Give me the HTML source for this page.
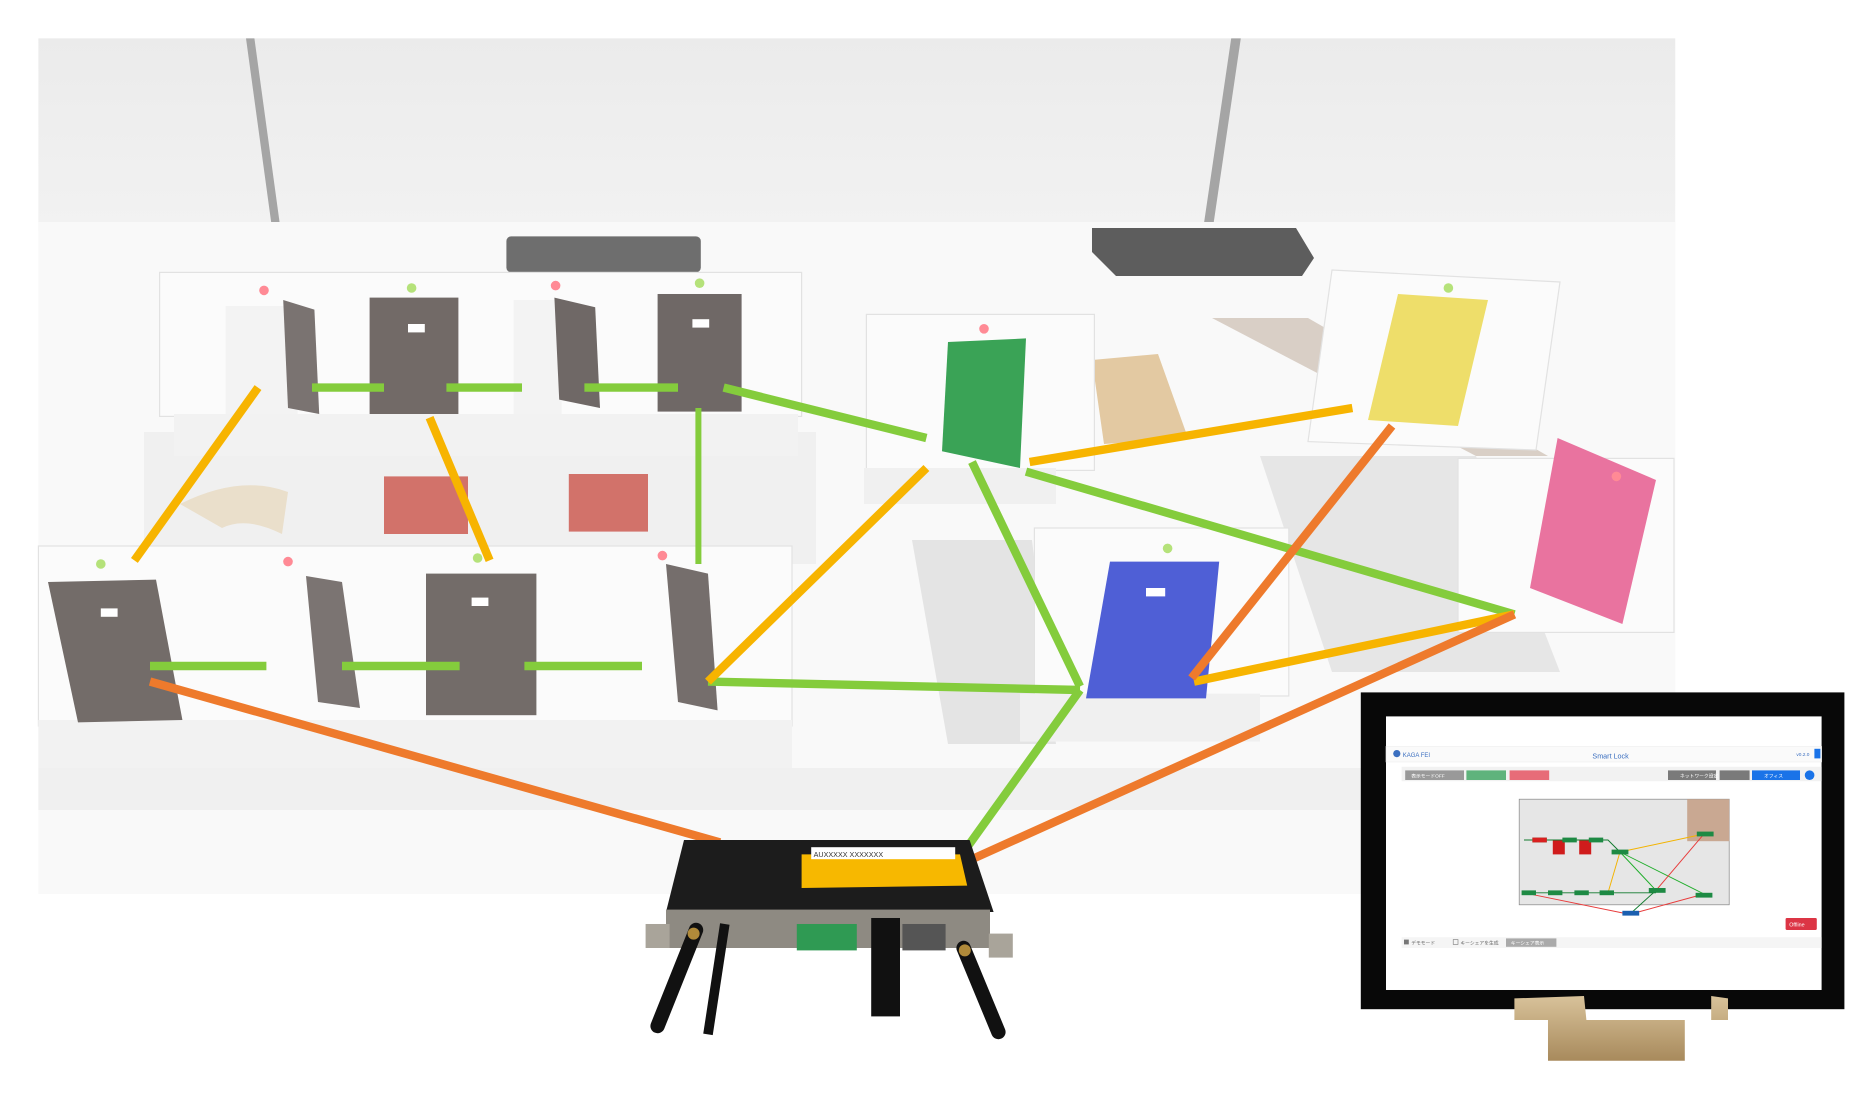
<!DOCTYPE html>
<html><head><meta charset="utf-8"><style>
html,body{margin:0;padding:0;background:#fff;width:1872px;height:1100px;overflow:hidden}
svg{display:block}
</style></head><body>
<svg width="1872" height="1100" viewBox="0 0 1560 916.67" xmlns="http://www.w3.org/2000/svg" font-family="Liberation Sans, Noto Sans CJK JP, sans-serif">
<defs>
<linearGradient id="wall" x1="0" y1="0" x2="0" y2="1"><stop offset="0" stop-color="#ebebeb"/><stop offset="1" stop-color="#f2f2f2"/></linearGradient>
<linearGradient id="stand" x1="0" y1="0" x2="0" y2="1"><stop offset="0" stop-color="#d8c29a"/><stop offset="1" stop-color="#a88a5c"/></linearGradient>
</defs>
<rect x="32" y="32" width="1364" height="713" fill="#f7f7f7"/>
<rect x="32" y="32" width="1364" height="160" fill="url(#wall)"/>
<polygon points="205,32 212,32 235,200 228,200" fill="#a5a5a5"/>
<polygon points="1026,32 1034,32 1010,195 1002,195" fill="#a5a5a5"/>
<rect x="32" y="185" width="1364" height="560" fill="#f9f9f9"/>
<rect x="422" y="197" width="162" height="30" rx="4" fill="#6e6e6e"/>
<polygon points="910,190 1080,190 1095,215 1085,230 930,230 910,210" fill="#5d5d5d"/>
<rect x="120" y="360" width="560" height="110" fill="#f0f0f0"/>
<polygon points="1010,265 1090,265 1290,380 1230,380" fill="#d9cfc6"/>
<polygon points="1050,380 1230,380 1300,560 1110,560" fill="#e6e6e6"/>
<polygon points="760,450 860,450 880,620 790,620" fill="#e4e4e4"/>
<polygon points="910,300 965,295 990,365 920,370" fill="#e3c9a2"/>
<rect x="320" y="397" width="70" height="48" fill="#d2726a"/>
<rect x="474" y="395" width="66" height="48" fill="#d2726a"/>
<path d="M150,420 Q200,395 240,410 L235,445 Q205,430 185,440 Z" fill="#eadfcb"/>
<rect x="133" y="227" width="535" height="120" fill="#fbfbfb" stroke="#e2e2e2"/>
<rect x="145" y="345" width="520" height="35" fill="#f2f2f2"/>
<rect x="188" y="255" width="60" height="90" fill="#f3f3f3"/>
<polygon points="236,250 262,258 266,345 240,340" fill="#7a7371"/>
<rect x="308" y="248" width="74" height="97" fill="#726a67"/>
<rect x="428" y="250" width="40" height="95" fill="#f3f3f3"/>
<polygon points="462,248 496,256 500,340 466,333" fill="#6f6866"/>
<rect x="548" y="245" width="70" height="98" fill="#6f6866"/>
<rect x="340" y="270" width="14" height="7" fill="#fff"/>
<rect x="577" y="266" width="14" height="7" fill="#fff"/>
<circle cx="220" cy="242" r="4" fill="#ff8a95"/><circle cx="343" cy="240" r="4" fill="#b5e27a"/>
<circle cx="463" cy="238" r="4" fill="#ff8a95"/><circle cx="583" cy="236" r="4" fill="#b5e27a"/>
<rect x="722" y="262" width="190" height="130" fill="#fbfbfb" stroke="#e2e2e2"/>
<rect x="720" y="390" width="160" height="30" fill="#f0f0f0"/>
<polygon points="790,285 855,282 850,390 785,376" fill="#3aa356"/>
<circle cx="820" cy="274" r="4" fill="#ff8a95"/>
<polygon points="1110,225 1300,235 1280,375 1090,368" fill="#fbfbfb" stroke="#e2e2e2"/>
<polygon points="1165,245 1240,250 1215,355 1140,350" fill="#eede6a"/>
<circle cx="1207" cy="240" r="4" fill="#b5e27a"/>
<rect x="1215" y="382" width="180" height="145" fill="#fbfbfb" stroke="#e2e2e2"/>
<polygon points="1298,365 1380,400 1352,520 1275,490" fill="#e9739f"/>
<circle cx="1347" cy="397" r="4" fill="#ff8a95"/>
<rect x="862" y="440" width="212" height="140" fill="#fbfbfb" stroke="#e2e2e2"/>
<rect x="850" y="578" width="200" height="40" fill="#f0f0f0"/>
<polygon points="925,468 1016,468 1005,582 905,582" fill="#4f5fd6"/>
<rect x="955" y="490" width="16" height="7" fill="#fff"/>
<circle cx="973" cy="457" r="4" fill="#b5e27a"/>
<rect x="32" y="455" width="628" height="150" fill="#fbfbfb" stroke="#e2e2e2"/>
<rect x="32" y="600" width="628" height="40" fill="#f2f2f2"/>
<rect x="32" y="640" width="1364" height="35" fill="#f0f0f0"/>
<polygon points="40,485 130,483 152,600 65,602" fill="#736c69"/>
<rect x="84" y="507" width="14" height="7" fill="#fff"/>
<polygon points="255,480 285,485 300,590 265,585" fill="#7b7472"/>
<rect x="355" y="478" width="92" height="118" fill="#736c69"/>
<rect x="393" y="498" width="14" height="7" fill="#fff"/>
<polygon points="555,470 590,478 598,592 565,585" fill="#756e6c"/>
<circle cx="84" cy="470" r="4" fill="#b5e27a"/><circle cx="240" cy="468" r="4" fill="#ff8a95"/>
<circle cx="398" cy="465" r="4" fill="#b5e27a"/><circle cx="552" cy="463" r="4" fill="#ff8a95"/>

<g stroke-linecap="butt" stroke-width="7">
<g stroke="#84cc3c">
<line x1="260" y1="323" x2="320" y2="323"/><line x1="372" y1="323" x2="435" y2="323"/><line x1="487" y1="323" x2="565" y2="323"/>
<line x1="125" y1="555" x2="222" y2="555"/><line x1="285" y1="555" x2="383" y2="555"/><line x1="437" y1="555" x2="535" y2="555"/>
<line x1="603" y1="323" x2="772" y2="365"/>
<line x1="582" y1="340" x2="582" y2="470" stroke-width="5"/>
<line x1="810" y1="385" x2="900" y2="572"/>
<line x1="855" y1="393" x2="1262" y2="512"/>
<line x1="590" y1="568" x2="900" y2="575"/>
<line x1="900" y1="575" x2="806" y2="706"/>
</g>
<g stroke="#f7b400">
<line x1="215" y1="323" x2="112" y2="467"/>
<line x1="358" y1="348" x2="408" y2="467"/>
<line x1="772" y1="390" x2="590" y2="568"/>
<line x1="858" y1="385" x2="1127" y2="340"/>
<line x1="995" y1="568" x2="1262" y2="512"/>
</g>
<g stroke="#ee7a2c">
<line x1="125" y1="568" x2="600" y2="702"/>
<line x1="1160" y1="355" x2="993" y2="565"/>
<line x1="1262" y1="512" x2="810" y2="716"/>
</g>
</g>

<polygon points="570,700 808,700 828,760 555,760" fill="#1c1c1c"/>
<polygon points="668,712 800,712 806,738 668,740" fill="#f7b800"/>
<rect x="676" y="706" width="120" height="10" fill="#fff"/>
<text x="678" y="714" font-size="6" fill="#333">AUXXXXX XXXXXXX</text>
<rect x="555" y="758" width="270" height="32" fill="#8e8a82"/>
<rect x="538" y="770" width="20" height="20" fill="#a9a49a"/>
<rect x="824" y="778" width="20" height="20" fill="#a9a49a"/>
<rect x="664" y="770" width="50" height="22" fill="#2f9a53"/>
<rect x="752" y="770" width="36" height="22" fill="#555"/>
<rect x="726" y="765" width="24" height="82" fill="#111"/>
<line x1="580" y1="775" x2="548" y2="855" stroke="#111" stroke-width="12" stroke-linecap="round"/>
<line x1="604" y1="770" x2="590" y2="862" stroke="#111" stroke-width="8"/>
<line x1="803" y1="790" x2="832" y2="860" stroke="#111" stroke-width="12" stroke-linecap="round"/>
<circle cx="578" cy="778" r="5" fill="#b08a3a"/><circle cx="804" cy="792" r="5" fill="#b08a3a"/>

<rect x="1134" y="577" width="403" height="264" fill="#080808"/>
<rect x="1155" y="597" width="363" height="228" fill="#fff"/>
<path d="M1262,832 L1320,830 L1322,850 L1426,850 L1426,830 L1440,832 L1440,850 L1404,850 L1404,884 L1290,884 L1290,850 L1262,850 Z" fill="url(#stand)"/>
<rect x="1155" y="622" width="363" height="13" fill="#fafafa" stroke="#eee" stroke-width="0.5"/>
<circle cx="1164" cy="628" r="3" fill="#3b6fc0"/>
<text x="1169" y="631" font-size="5" fill="#3b6fc0">KAGA FEI</text>
<text x="1327" y="632" font-size="6" fill="#3b6fc0">Smart Lock</text>
<text x="1497" y="630" font-size="4" fill="#3b6fc0">v0.2.0</text>
<rect x="1512" y="624" width="5" height="8" fill="#1a73e8"/>
<rect x="1168" y="639" width="350" height="12" fill="#f2f2f2"/>
<rect x="1171" y="642" width="49" height="8" fill="#999"/>
<rect x="1222" y="642" width="33" height="8" fill="#5fb37c"/>
<rect x="1258" y="642" width="33" height="8" fill="#e76c78"/>
<rect x="1390" y="642" width="40" height="8" fill="#7a7a7a"/>
<rect x="1433" y="642" width="25" height="8" fill="#7a7a7a"/>
<rect x="1460" y="642" width="40" height="8" fill="#1a73e8"/>
<circle cx="1508" cy="646" r="4" fill="#1a73e8"/>
<text x="1176" y="648" font-size="4" fill="#fff">表示モードOFF</text>
<text x="1400" y="648" font-size="4" fill="#fff">ネットワーク設定</text>
<text x="1470" y="648" font-size="4" fill="#fff">オフィス</text>
<rect x="1266" y="666" width="175" height="88" fill="#e6e6e6" stroke="#888" stroke-width="0.6"/>
<rect x="1406" y="666" width="35" height="35" fill="#c9a892"/>
<rect x="1294" y="700" width="10" height="12" fill="#d01c1c"/><rect x="1316" y="700" width="10" height="12" fill="#d01c1c"/>
<g stroke-width="0.8" fill="none">
<polyline points="1270,700 1340,700 1350,710" stroke="#117a2e"/>
<line x1="1350" y1="710" x2="1420" y2="695" stroke="#f3b300"/>
<line x1="1350" y1="710" x2="1380" y2="742" stroke="#1fae2a"/>
<line x1="1350" y1="710" x2="1420" y2="745" stroke="#1fae2a"/>
<line x1="1270" y1="744" x2="1380" y2="744" stroke="#117a2e"/>
<line x1="1270" y1="744" x2="1358" y2="762" stroke="#e83b3b"/>
<line x1="1420" y1="695" x2="1380" y2="742" stroke="#e83b3b"/>
<line x1="1420" y1="745" x2="1358" y2="762" stroke="#e83b3b"/>
<line x1="1380" y1="742" x2="1358" y2="762" stroke="#117a2e"/>
<line x1="1340" y1="744" x2="1350" y2="710" stroke="#f3b300"/>
</g>
<g fill="#1e8a44">
<rect x="1277" y="698" width="12" height="4"/><rect x="1302" y="698" width="12" height="4"/><rect x="1324" y="698" width="12" height="4"/>
<rect x="1343" y="708" width="14" height="4"/><rect x="1414" y="693" width="14" height="4"/><rect x="1413" y="744" width="14" height="4"/>
<rect x="1268" y="742" width="12" height="4"/><rect x="1290" y="742" width="12" height="4"/><rect x="1312" y="742" width="12" height="4"/>
<rect x="1333" y="742" width="12" height="4"/><rect x="1374" y="740" width="14" height="4"/>
</g>
<rect x="1277" y="698" width="12" height="4" fill="#d92020"/>
<rect x="1352" y="759" width="14" height="4" fill="#1b5fb0"/>
<rect x="1488" y="765" width="26" height="10" rx="1" fill="#dc3545"/>
<text x="1491" y="772" font-size="4.5" fill="#fff">Offline</text>
<rect x="1168" y="781" width="350" height="9" fill="#f5f5f5"/>
<rect x="1170" y="783" width="4" height="4" fill="#777"/>
<text x="1176" y="787" font-size="4" fill="#666">デモモード</text>
<rect x="1211" y="783" width="4" height="4" fill="none" stroke="#777" stroke-width="0.5"/>
<text x="1217" y="787" font-size="4" fill="#666">キーシェアを生成</text>
<rect x="1255" y="782" width="42" height="7" fill="#aaa"/>
<text x="1259" y="787" font-size="4" fill="#fff">キーシェア表示</text>
</svg>
</body></html>
